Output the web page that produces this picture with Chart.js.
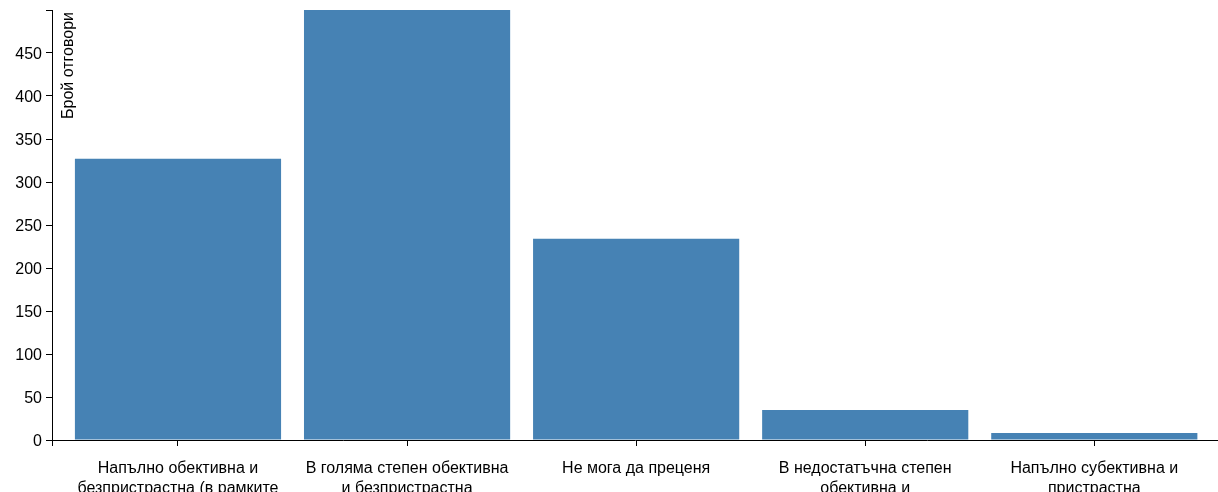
<!DOCTYPE html>
<html>
<head>
<meta charset="utf-8">
<script src="https://cdn.jsdelivr.net/npm/chart.js@4"></script>
<style>
  html, body { margin: 0; padding: 0; background: #fff; overflow: hidden; }
  canvas { display: block; }
</style>
</head>
<body>
<canvas id="barChart" width="1218" height="492"></canvas>
<script>
const categories = [
  ['Напълно обективна и', 'безпристрастна (в рамките'],
  ['В голяма степен обективна', 'и безпристрастна'],
  ['Не мога да преценя'],
  ['В недостатъчна степен', 'обективна и'],
  ['Напълно субективна и', 'пристрастна']
];
const answers = [327, 500, 234, 35, 8];
const yTicks = [0, 50, 100, 150, 200, 250, 300, 350, 400, 450];
const yTitle = 'Брой отговори';

const FONT = '"Liberation Sans", Arial, Helvetica, sans-serif';

// d3-like axis ends (outer ticks) + rotated y title
const axisExtras = {
  id: 'axisExtras',
  afterLayout(chart) {
    // nudge y tick labels down a bit, like d3's dy=.32em
    const y = chart.scales.y;
    if (!y._nudged) {
      const orig = y.drawLabels.bind(y);
      y.drawLabels = function (area) {
        this.ctx.save();
        this.ctx.translate(0, 2);
        orig(area);
        this.ctx.restore();
      };
      y._nudged = true;
    }
  },
  afterDraw(chart) {
    const { ctx, chartArea } = chart;
    ctx.save();
    ctx.strokeStyle = '#000';
    ctx.lineWidth = 1;
    ctx.beginPath();
    ctx.moveTo(chartArea.left - 6, chartArea.top + 0.5);
    ctx.lineTo(chartArea.left, chartArea.top + 0.5);
    ctx.moveTo(chartArea.left + 0.5, chartArea.bottom);
    ctx.lineTo(chartArea.left + 0.5, chartArea.bottom + 6);
    ctx.stroke();

    ctx.translate(chartArea.left + 9, chartArea.top + 2);
    ctx.rotate(-Math.PI / 2);
    ctx.fillStyle = '#000';
    ctx.font = '16px ' + FONT;
    ctx.textAlign = 'right';
    ctx.textBaseline = 'top';
    ctx.fillText(yTitle, 0, 0);
    ctx.restore();
  }
};

new Chart(document.getElementById('barChart').getContext('2d'), {
  type: 'bar',
  data: {
    datasets: [{
      data: answers.map((v, i) => ({ x: i, y: v })),
      backgroundColor: '#4682b4',
      borderWidth: 0,
      inflateAmount: 0,
      barPercentage: 0.9,
      categoryPercentage: 1.0
    }]
  },
  options: {
    responsive: false,
    animation: false,
    layout: { padding: { top: 10, right: 0, left: 0, bottom: 0 } },
    plugins: { legend: { display: false }, tooltip: { enabled: false } },
    scales: {
      x: {
        type: 'linear',
        offset: false,
        min: -0.55,
        max: 4.54,
        afterBuildTicks: s => { s.ticks = categories.map((c, i) => ({ value: i })); },
        afterFit: s => { s.height = 52; s.paddingLeft = 0; s.paddingRight = 0; },
        grid: { offset: false, drawOnChartArea: false, drawTicks: true, tickLength: 6, color: '#000' },
        border: { display: true, color: '#000', width: 1 },
        ticks: {
          autoSkip: false,
          maxRotation: 0,
          padding: 13,
          color: '#000',
          font: { family: FONT, size: 16, lineHeight: 1.25 },
          callback: v => categories[v]
        }
      },
      y: {
        min: 0,
        max: Math.max(...answers),
        afterBuildTicks: s => { s.ticks = yTicks.map(v => ({ value: v })); },
        afterFit: s => { s.width = 52; s.paddingTop = 0; s.paddingBottom = 0; },
        grid: { drawOnChartArea: false, drawTicks: true, tickLength: 6, color: '#000' },
        border: { display: true, color: '#000', width: 1 },
        ticks: {
          padding: 4,
          color: '#000',
          font: { family: FONT, size: 16 }
        }
      }
    }
  },
  plugins: [axisExtras]
});
</script>
</body>
</html>
